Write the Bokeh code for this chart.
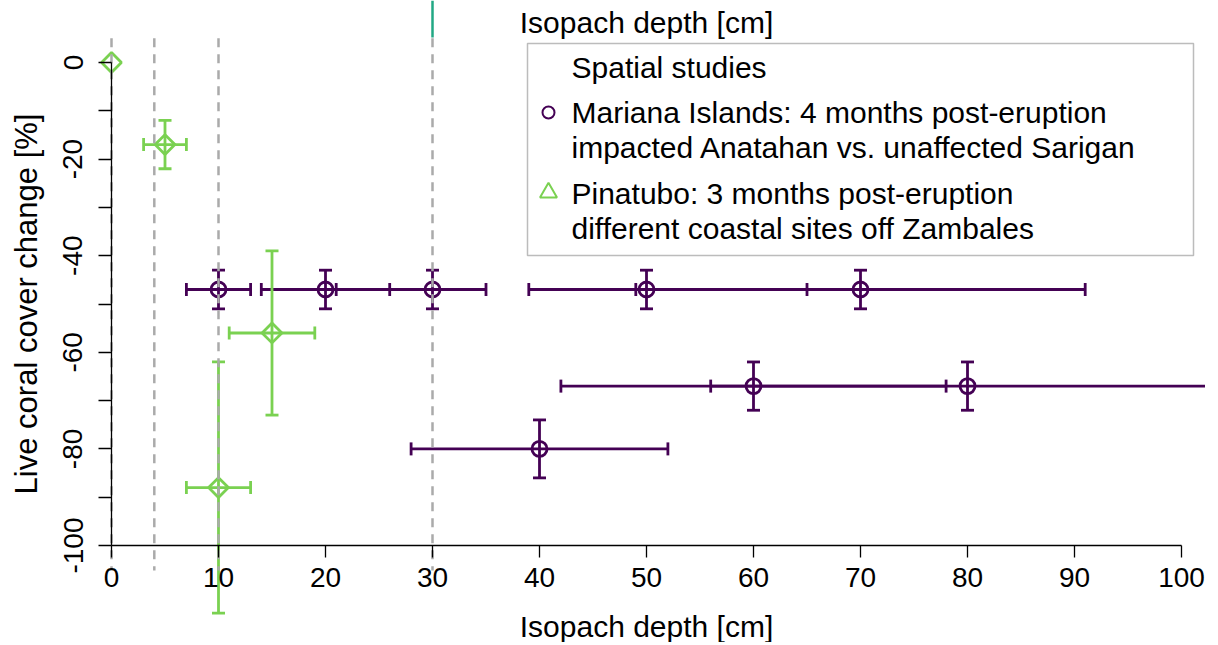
import numpy as np
from bokeh.plotting import figure
from bokeh.models import LinearAxis, FixedTicker, Range1d, BoxAnnotation
from bokeh.core.properties import value
from bokeh.embed import file_html
from bokeh.resources import INLINE

# ---------------- data ----------------
# Mariana Islands (spatial study)
mar_x = [10, 20, 30, 50, 70, 60, 80, 40]
mar_y = [-47, -47, -47, -47, -47, -67, -67, -80]
mar_xlo = [7, 14, 21, 39, 49, 42, 56, 28]
mar_xhi = [13, 26, 35, 65, 91, 78, 110, 52]
mar_ylo = [-51, -51, -51, -51, -51, -72, -72, -86]
mar_yhi = [-43, -43, -43, -43, -43, -62, -62, -74]

# Pinatubo (spatial study)
pin_x = [0, 5, 15, 10]
pin_y = [0, -17, -56, -88]
pin_xlo = [0, 3, 11, 7]
pin_xhi = [0, 7, 19, 13]
pin_ylo = [0, -22, -73, -114]
pin_yhi = [0, -12, -39, -62]

# reference isopach depths (dashed lines)
vline_x = [0, 4, 10, 30]
teal_x = [30]

x_ticks = [0, 10, 20, 30, 40, 50, 60, 70, 80, 90, 100]
y_ticks = [0, -20, -40, -60, -80, -100]
y_tick_labels = ["0", "-20", "-40", "-60", "-80", "-100"]
y_minor = [-10, -30, -50, -70, -90]

legend_title = "Spatial studies"
mar_label = ["Mariana Islands: 4 months post-eruption", "impacted Anatahan vs. unaffected Sarigan"]
pin_label = ["Pinatubo: 3 months post-eruption", "different coastal sites off Zambales"]

# ---------------- style / layout ----------------
FONT = "Liberation Sans"
PURPLE = "#440154"
GREEN = "#7AD151"
TEAL = "#22A884"
GREY = "#AAAAAA"
W, H = 1205, 642
OFF = 0
XPX, YPX = 10.7, 4.83
X_START = (OFF - 111) / XPX
X_END = X_START + W / XPX
Y_END = (62 - OFF) / YPX
Y_START = Y_END - H / YPX


def dx(px):
    return X_START + (px - OFF) / XPX


def dy(py):
    return Y_END - (py - OFF) / YPX


p = figure(width=W, height=H, output_backend="svg", toolbar_location=None,
           x_range=Range1d(X_START, X_END), y_range=Range1d(Y_START, Y_END),
           x_axis_type=None, y_axis_type=None, min_border=0,
           outline_line_color=None, background_fill_color="white")

# axes (R style)
xax = LinearAxis(fixed_location=-100, bounds=(0, 100), ticker=FixedTicker(ticks=x_ticks))
yax = LinearAxis(fixed_location=0, bounds=(-100, 0),
                 ticker=FixedTicker(ticks=y_ticks, minor_ticks=y_minor),
                 major_label_overrides={t: s for t, s in zip(y_ticks, y_tick_labels)})
for ax in (xax, yax):
    ax.axis_line_color = "black"
    ax.axis_line_width = 1.3
    ax.major_tick_line_color = "black"
    ax.major_tick_line_width = 1.3
    ax.minor_tick_line_color = "black"
    ax.minor_tick_line_width = 1.3
    ax.major_tick_in = 0
    ax.minor_tick_in = 0
    ax.major_label_text_font = FONT
    ax.major_label_text_font_size = "28px"
    ax.major_label_text_color = "black"
    ax.axis_label_text_font = FONT
    ax.axis_label_text_font_size = "30px"
    ax.axis_label_text_font_style = "normal"
    ax.axis_label_text_color = "black"

xax.major_tick_out = 12
xax.minor_tick_out = 0
xax.major_label_standoff = 10
xax.axis_label = "Isopach depth [cm]"
xax.axis_label_standoff = 20

yax.major_tick_out = 13
yax.minor_tick_out = 13
yax.major_label_orientation = "vertical"
yax.major_label_standoff = 16
yax.axis_label = "Live coral cover change [%]"
yax.axis_label_text_font_size = "31px"
yax.axis_label_standoff = 17

p.add_layout(xax, "below")
p.add_layout(yax, "left")

LW = 2.8
CAP = 13

# Mariana error bars
p.segment(x0=mar_xlo, y0=mar_y, x1=mar_xhi, y1=mar_y, line_color=PURPLE, line_width=LW)
p.segment(x0=mar_x, y0=mar_ylo, x1=mar_x, y1=mar_yhi, line_color=PURPLE, line_width=LW)
p.scatter(x=mar_xlo + mar_xhi, y=mar_y + mar_y, marker="dash", size=CAP, angle=np.pi / 2,
          line_color=PURPLE, line_width=LW)
p.scatter(x=mar_x + mar_x, y=mar_ylo + mar_yhi, marker="dash", size=CAP,
          line_color=PURPLE, line_width=LW)
p.scatter(x=mar_x, y=mar_y, marker="circle", size=15, fill_color=None,
          line_color=PURPLE, line_width=LW)

# Pinatubo error bars (skip zero-length ones)
pin_bar = [i for i in range(len(pin_x)) if pin_xhi[i] > pin_xlo[i]]
px_ = [pin_x[i] for i in pin_bar]
py_ = [pin_y[i] for i in pin_bar]
pxlo = [pin_xlo[i] for i in pin_bar]
pxhi = [pin_xhi[i] for i in pin_bar]
pylo = [pin_ylo[i] for i in pin_bar]
pyhi = [pin_yhi[i] for i in pin_bar]
p.segment(x0=pxlo, y0=py_, x1=pxhi, y1=py_, line_color=GREEN, line_width=LW)
p.segment(x0=px_, y0=pylo, x1=px_, y1=pyhi, line_color=GREEN, line_width=LW)
p.scatter(x=pxlo + pxhi, y=py_ + py_, marker="dash", size=CAP, angle=np.pi / 2,
          line_color=GREEN, line_width=LW)
p.scatter(x=px_ + px_, y=pylo + pyhi, marker="dash", size=CAP,
          line_color=GREEN, line_width=LW)
p.scatter(x=pin_x, y=pin_y, marker="square", angle=np.pi / 4, size=14, fill_color=None,
          line_color=GREEN, line_width=LW)

# dashed reference lines (drawn on top)
p.segment(x0=vline_x, y0=[5] * len(vline_x), x1=vline_x, y1=[-105.2] * len(vline_x),
          line_color=GREY, line_width=2.5, line_dash="9 7")

# teal segment above
p.segment(x0=teal_x, y0=[dy(37)], x1=teal_x, y1=[dy(0)], line_color=TEAL, line_width=2.5)

# top label
p.text(x=[50], y=[dy(22)], text=["Isopach depth [cm]"], text_font=value(FONT),
       text_font_size="30px", text_align="center", text_baseline="middle", text_color="black")

# legend
box = BoxAnnotation(left=dx(527), right=dx(1193), top=dy(43), bottom=dy(255),
                    fill_color="white", fill_alpha=1.0, line_color="#222222", line_width=1.5,
                    level="underlay")
p.add_layout(box)
TX = dx(571)
p.text(x=[TX] * 5, y=[dy(67), dy(112), dy(147), dy(193), dy(228)],
       text=[legend_title] + mar_label + pin_label, text_font=value(FONT),
       text_font_size="30px", text_align="left", text_baseline="middle", text_color="black")
p.scatter(x=[dx(548)], y=[dy(112)], marker="circle", size=12, fill_color=None,
          line_color=PURPLE, line_width=2)
p.scatter(x=[dx(548)], y=[dy(192)], marker="triangle", size=17, fill_color=None,
          line_color=GREEN, line_width=2)

open("out.html", "w").write(file_html(p, INLINE))
